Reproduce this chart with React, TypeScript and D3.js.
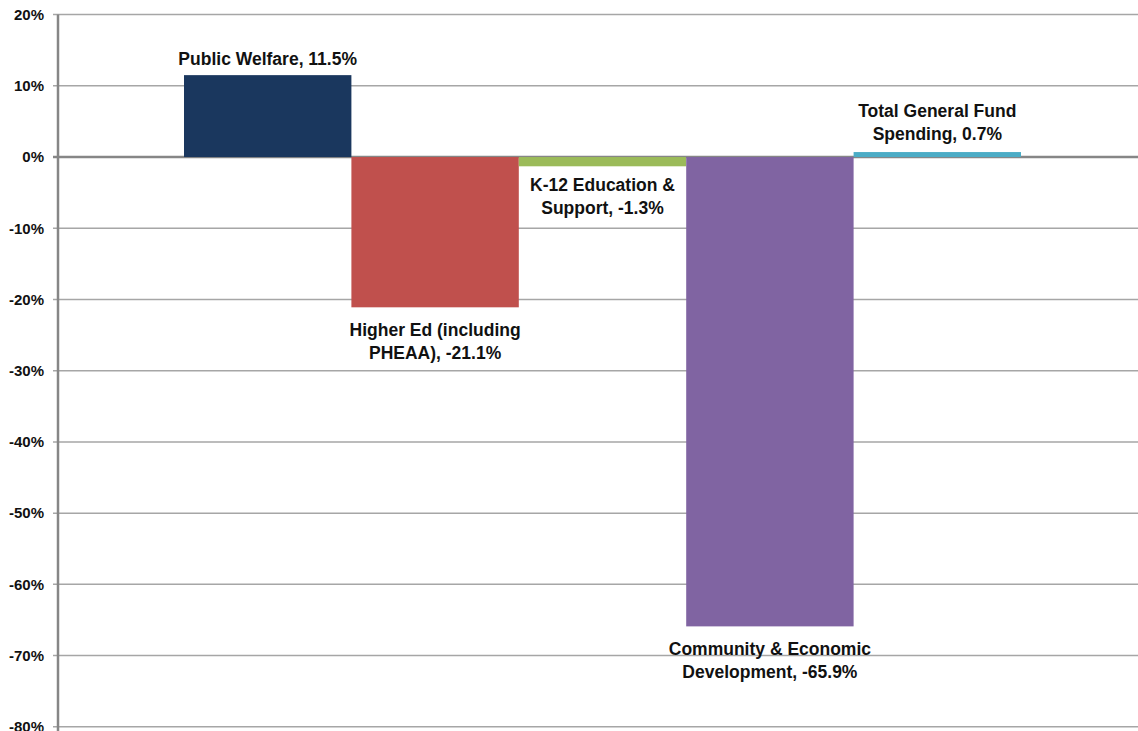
import React from "react";
import * as d3 from "d3";

const categories = [
  "Public Welfare",
  "Higher Ed (including PHEAA)",
  "K-12 Education & Support",
  "Community & Economic Development",
  "Total General Fund Spending",
];
const values = [11.5, -21.1, -1.3, -65.9, 0.7];
const labelLines = [
  ["Public Welfare, 11.5%"],
  ["Higher Ed (including", "PHEAA), -21.1%"],
  ["K-12 Education &", "Support, -1.3%"],
  ["Community & Economic", "Development, -65.9%"],
  ["Total General Fund", "Spending, 0.7%"],
];
const colors = ["#1A375E", "#C0504D", "#9BBB59", "#8064A2", "#4BACC6"];
const yTicks = [20, 10, 0, -10, -20, -30, -40, -50, -60, -70, -80];

export default function App() {
  const W = 1138, H = 731;
  const axisX = 58;
  const y = d3.scaleLinear().domain([-80, 20]).range([726.8, 14.6]);
  const x = d3.scaleBand<string>().domain(categories).range([184, 1021]).padding(0);
  const font = "'Liberation Sans', Arial, sans-serif";
  const lh = 23;

  return (
    <svg width={W} height={H} style={{ position: "absolute", left: 0, top: 0, background: "#fff" }}>
      {yTicks.map((t) => (
        <g key={t}>
          <line x1={axisX - 5} x2={W} y1={y(t)} y2={y(t)} stroke={t === 0 ? "#868686" : "#A6A6A6"} strokeWidth={t === 0 ? 2.5 : 1.5} />
          <text x={44} y={y(t)} dy="0.35em" textAnchor="end" fontFamily={font} fontWeight="bold" fontSize={15} fill="#111">
            {t + "%"}
          </text>
        </g>
      ))}
      {categories.map((c, i) => {
        const v = values[i];
        const y0 = y(0), y1 = y(v);
        return (
          <rect key={c} x={x(c)!} width={x.bandwidth()} y={Math.min(y0, y1)} height={Math.abs(y1 - y0)} fill={colors[i]} />
        );
      })}
      <line x1={axisX} x2={axisX} y1={y(20)} y2={H} stroke="#868686" strokeWidth={2.5} />
      {categories.map((c, i) => {
        const v = values[i];
        const cx = x(c)! + x.bandwidth() / 2;
        const lines = labelLines[i];
        let firstBaseline: number;
        if (i === 0) firstBaseline = y(v) - 10;
        else if (i === 4) firstBaseline = y(v) - 35;
        else if (i === 2) firstBaseline = y(v) + 25;
        else firstBaseline = y(v) + 29;
        return (
          <text key={c} textAnchor="middle" fontFamily={font} fontWeight="bold" fontSize={17.5} fill="#111">
            {lines.map((l, j) => (
              <tspan key={j} x={cx} y={firstBaseline + j * lh}>
                {l}
              </tspan>
            ))}
          </text>
        );
      })}
    </svg>
  );
}
